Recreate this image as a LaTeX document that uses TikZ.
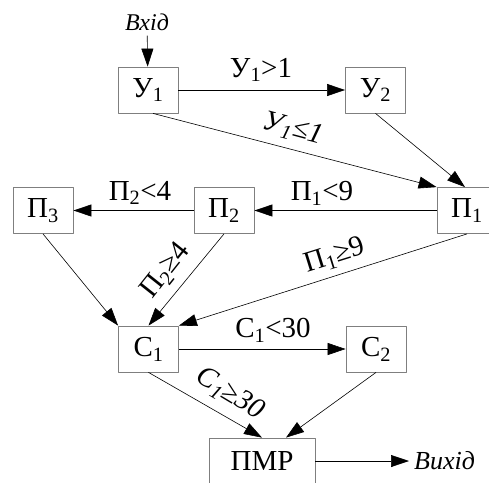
\documentclass[tikz,border=0pt]{standalone}
\usepackage{fontspec}
\setmainfont{Liberation Serif}
\usetikzlibrary{arrows.meta}
\definecolor{frame}{HTML}{7F7F7F}
\definecolor{ink}{HTML}{000000}
\tikzset{fig/.style={line join=round,>={Triangle[length=18pt,width=12pt]},font=\fontsize{29}{31}\selectfont},
  blk/.style={draw=frame,line width=0.8pt,minimum width=60pt,minimum height=46pt,inner sep=0pt},
  lnk/.style={->,ink,line width=0.6pt},
  io/.style={font=\fontsize{24}{26}\selectfont\itshape,inner sep=5pt},
  cond/.style={inner sep=1pt}}
\newcommand{\ix}[1]{\textsubscript{#1}}

\begin{document}
\begin{tikzpicture}[fig,x=10pt,y=-10pt]
  \path[use as bounding box,clip](0,0)rectangle(48.9,48.2);
  \node[blk](u1)at(14.8,9.0){У\ix1};
  \node[blk](u2)at(37.55,9.0){У\ix2};
  \node[blk](p1)at(46.7,21.05){П\ix1};
  \node[blk](p2)at(22.4,21.05){П\ix2};
  \node[blk](p3)at(4.3,21.05){П\ix3};
  \node[blk](c1)at(14.85,34.9){С\ix1};
  \node[blk](c2)at(37.6,34.9){С\ix2};
  \node[blk,minimum width=106pt](pmr)at(26.2,46.1){ПМР};
  \node[io](in)at(14.7,2.2){Вхід};
  \node[io,anchor=west,font=\fontsize{26}{28}\selectfont\itshape](out)at(40.9,46.1){Вихід};
  \draw[lnk](in)--(u1);
  \draw[lnk](u1)--(u2);
  \draw[lnk]([xshift=5pt]u1.south)--(p1.north west);
  \draw[lnk](u2.south)--([xshift=-2pt]p1.north);
  \draw[lnk](p1)--(p2);
  \draw[lnk](p2)--(p3);
  \draw[lnk](p3.south)--(c1.north west);
  \draw[lnk](p2.south)--(c1.north);
  \draw[lnk](p1.south)--(c1.north east);
  \draw[lnk](c1)--(c2);
  \draw[lnk](c1.south)--(pmr.north);
  \draw[lnk](c2.south)--([xshift=24pt]pmr.north);
  \draw[lnk](pmr)--(out);
  \node[cond](la)at(26.1,7.0){У\ix1>1};
  \node[cond,rotate=-15,font=\fontsize{29}{31}\selectfont\itshape](lb)at(29.3,12.9){У\ix1≤1};
  \node[cond](lc)at(32.2,19.3){П\ix1<9};
  \node[cond](ld)at(14.0,19.3){П\ix2<4};
  \node[cond,rotate=51.5](le)at(16.6,27.1){П\ix2≥4};
  \node[cond,rotate=17.3](lf)at(33.5,25.6){П\ix1≥9};
  \node[cond](lg)at(27.3,33.0){С\ix1<30};
  \node[cond,rotate=-31,font=\fontsize{29}{31}\selectfont\itshape](lh)at(23.0,39.4){С\ix1≥30};
\end{tikzpicture}
\end{document}
